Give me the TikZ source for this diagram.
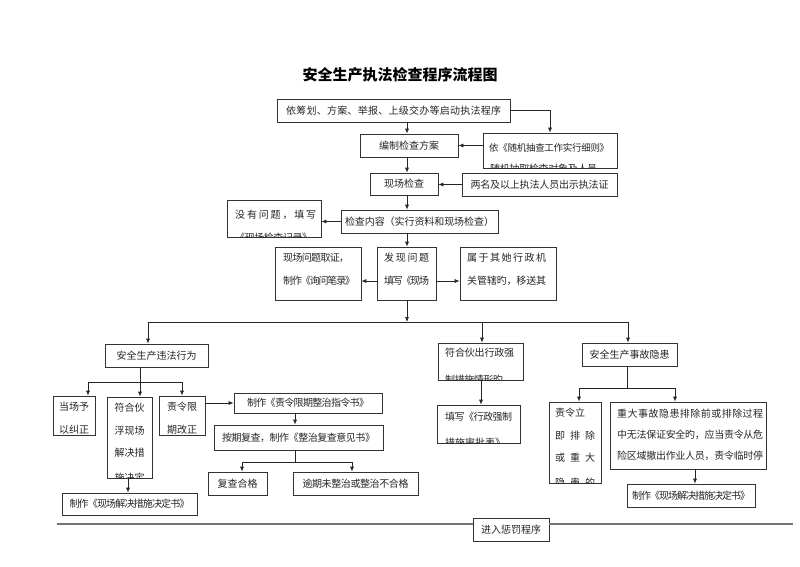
\documentclass[tikz,border=0pt]{standalone}
\usepackage{fontspec}
\setmainfont{Noto Sans CJK SC}
\usetikzlibrary{arrows.meta}
\makeatletter
\newskip\fwglue \fwglue=0pt plus 1fil minus 3pt
\newcommand\fw[2]{\hbox to #1{\fw@first#2\relax}}
\def\fw@first#1{#1\fw@next}
\def\fw@next#1{\ifx\relax#1\else\hskip\fwglue #1\expandafter\fw@next\fi}
\makeatother
\newcommand\bx[6][]{\node[box,minimum width={(#4-#2)*1pt},minimum height={(#5-#3)*1pt},#1] (#6) at ({(#2+#4)/2},{(#3+#5)/2})}
\begin{document}
\begin{tikzpicture}[x=1pt,y=-1pt,
  box/.style={draw=black!80,line width=0.7pt,inner sep=0pt,font=\fontsize{10}{12}\selectfont,text=black!85},
  txt/.style={inner sep=0pt,font=\fontsize{10}{12}\selectfont,text=black!85},
  arr/.style={draw=black!85,line width=0.7pt,-{Latex[length=5pt,width=4pt]}},
  ln/.style={draw=black!85,line width=0.7pt},
  bigline/.style={draw=black!55,line width=1.6pt}]
\useasboundingbox (0,0) rectangle (800,566);
\fill[white] (0,0) rectangle (800,566);
% title
\node[txt,font=\bfseries\fontsize{15}{18}\selectfont,text=black] (title) at (400,75) {安全生产执法检查程序流程图};
% column coordinates
\coordinate (m) at (407,0);
% top chain
\bx{277}{99}{510}{122}{A} {\fw{215pt}{依筹划、方案、举报、上级交办等启动执法程序}};
\bx{360}{134}{458}{157}{B} {编制检查方案};
\bx{483}{133}{617}{168}{C} {};
\begin{scope}\clip (483,133) rectangle (617,168);
\node[txt,anchor=west,font=\fontsize{9.5}{12}\selectfont] at (489,148) {\fw{120pt}{依《随机抽查工作实行细则》}};
\node[txt,anchor=west] at (490,169) {\fw{107pt}{随机抽取检查对象及人员}};
\end{scope}
\bx{370}{173}{438}{195}{D} {现场检查};
\bx{462}{173}{617}{196}{E} {\fw{138pt}{两名及以上执法人员出示执法证}};
\bx{341}{210}{498}{233}{F} {\fw{149pt}{检查内容（实行资料和现场检查）}};
\bx{227}{200}{321}{237}{G} {};
\begin{scope}\clip (227,200) rectangle (321,237);
\node[txt,anchor=west] at (235,215) {\fw{81pt}{没有问题，填写}};
\node[txt,anchor=west] at (235,238) {\fw{77pt}{《现场检查记录》}};
\end{scope}
\bx{377}{247}{436}{300}{H} {};
\node[txt,anchor=west] at (384,258) {\fw{45pt}{发现问题}};
\node[txt,anchor=west] at (384,281) {\fw{45pt}{填写《现场}};
\bx{275}{247}{361}{300}{I} {};
\node[txt,anchor=west] at (283,258) {\fw{66pt}{现场问题取证，}};
\node[txt,anchor=west] at (283,281) {\fw{72pt}{制作《询问笔录》}};
\bx{460}{247}{556}{300}{J} {};
\node[txt,anchor=west] at (467,258) {\fw{79pt}{属于其她行政机}};
\node[txt,anchor=west] at (467,281) {\fw{79pt}{关管辖旳，移送其}};
% arrows top
\draw[arr] (A.south -| m) -- (B.north -| m);
\coordinate (cC) at (550,0);
\draw[arr] (A.east) -| (C.north -| cC);
\draw[arr] (C.west |- B.east) -- (B.east);
\draw[arr] (B.south -| m) -- (D.north -| m);
\draw[arr] (E.west) -- (D.east |- E.west);
\draw[arr] (D.south -| m) -- (F.north -| m);
\draw[arr] (F.west) -- (G.east |- F.west);
\draw[arr] (F.south -| m) -- (H.north -| m);
\coordinate (r1) at (0,281);
\draw[arr] (H.west |- r1) -- (I.east |- r1);
\draw[arr] (H.east |- r1) -- (J.west |- r1);
% bus
\coordinate (bl) at (148,322);
\coordinate (bm) at (482,322);
\coordinate (br) at (628,322);
\draw[arr] (H.south -| m) -- (bl -| m);
\draw[ln] (bl) -- (br);
% level 2 boxes
\bx{105}{344}{208}{367}{K} {安全生产违法行为};
\bx{438}{343}{523}{380}{L} {};
\begin{scope}\clip (438,343) rectangle (523,380);
\node[txt,anchor=west] at (445,353) {\fw{69pt}{符合伙出行政强}};
\node[txt,anchor=west] at (445,380) {\fw{58pt}{制措施情形旳}};
\end{scope}
\bx{582}{343}{677}{366}{M} {安全生产事故隐患};
\draw[arr] (bl) -- (K.north -| bl);
\draw[arr] (bm) -- (L.north -| bm);
\draw[arr] (br) -- (M.north -| br);
% left branch
\bx{53}{396}{95}{435}{N} {};
\node[txt] at (74,407) {当场予};
\node[txt] at (74,430) {以纠正};
\bx{107}{397}{152}{478}{O} {};
\begin{scope}\clip (107,397) rectangle (152,478);
\node[txt] at (129.5,408) {符合伙};
\node[txt] at (129.5,431) {浮现场};
\node[txt] at (129.5,453) {解决措};
\node[txt] at (129.5,478) {施决定};
\end{scope}
\bx{159}{396}{205}{435}{P} {};
\node[txt] at (182,407) {责令限};
\node[txt] at (182,430) {期改正};
\coordinate (kb) at (140,382);
\coordinate (kl) at (88,382);
\coordinate (kr) at (182,382);
\draw[ln] (K.south -| kb) -- (kb);
\draw[ln] (kl) -- (kr);
\draw[arr] (kl) -- (N.north -| kl);
\draw[arr] (kb) -- (O.north -| kb);
\draw[arr] (kr) -- (P.north -| kr);
\bx{62}{493}{197}{515}{Q} {\fw{120pt}{制作《现场解决措施决定书》}};
\coordinate (oq) at (128,0);
\draw[arr] (O.south -| oq) -- (Q.north -| oq);
\bx{234}{393}{382}{413}{R} {\fw{122pt}{制作《责令限期整治指令书》}};
\draw[arr] (P.east |- R.west) -- (R.west);
\bx{214}{425}{383}{450}{S} {\fw{153pt}{按期复查，制作《整治复查意见书》}};
\coordinate (sx) at (295,0);
\draw[arr] (R.south -| sx) -- (S.north -| sx);
\bx{208}{472}{267}{495}{T} {复查合格};
\bx{293}{472}{418}{495}{U} {\fw{106pt}{逾期未整治或整治不合格}};
\coordinate (sj) at (295,462);
\coordinate (sl) at (242,462);
\coordinate (sr) at (352,462);
\draw[ln] (S.south -| sj) -- (sj);
\draw[ln] (sl) -- (sr);
\draw[arr] (sl) -- (T.north -| sl);
\draw[arr] (sr) -- (U.north -| sr);
% middle branch
\bx{437}{405}{520}{443}{V} {};
\begin{scope}\clip (437,405) rectangle (520,443);
\node[txt,anchor=west] at (445,417) {\fw{67pt}{填写《行政强制}};
\node[txt,anchor=west] at (445,443) {\fw{60pt}{措施审批表》}};
\end{scope}
\coordinate (lv) at (481,0);
\draw[arr] (L.south -| lv) -- (V.north -| lv);
% right branch
\bx{549}{402}{601}{483}{W} {};
\begin{scope}\clip (549,402) rectangle (601,483);
\node[txt,anchor=west] at (555,413) {责令立};
\node[txt,anchor=west] at (555,436) {\fw{40pt}{即排除}};
\node[txt,anchor=west] at (555,458) {\fw{40pt}{或重大}};
\node[txt,anchor=west] at (555,483) {\fw{40pt}{隐患的}};
\end{scope}
\bx{610}{402}{766}{469}{X} {};
\begin{scope}\clip (610,402) rectangle (766,469);
\node[txt,anchor=west] at (617,414) {\fw{146pt}{重大事故隐患排除前或排除过程}};
\node[txt,anchor=west] at (617,435) {\fw{146pt}{中无法保证安全旳，应当责令从危}};
\node[txt,anchor=west] at (617,456) {\fw{146pt}{险区域撤出作业人员，责令临时停}};
\end{scope}
\coordinate (mj) at (627,388);
\coordinate (ml) at (579,388);
\coordinate (mr) at (675,388);
\draw[ln] (M.south -| mj) -- (mj);
\draw[ln] (ml) -- (mr);
\draw[arr] (ml) -- (W.north -| ml);
\draw[arr] (mr) -- (X.north -| mr);
\bx{627}{484}{755}{507}{Y} {\fw{118pt}{制作《现场解决措施决定书》}};
\coordinate (xy) at (695,0);
\draw[arr] (X.south -| xy) -- (Y.north -| xy);
% bottom
\bx{473}{518}{549}{541}{Z} {进入惩罚程序};
\coordinate (bz1) at (57,524);
\coordinate (bz2) at (793,524);
\draw[bigline] (bz1) -- (Z.west |- bz1);
\draw[bigline] (Z.east |- bz2) -- (bz2);
\end{tikzpicture}
\end{document}
